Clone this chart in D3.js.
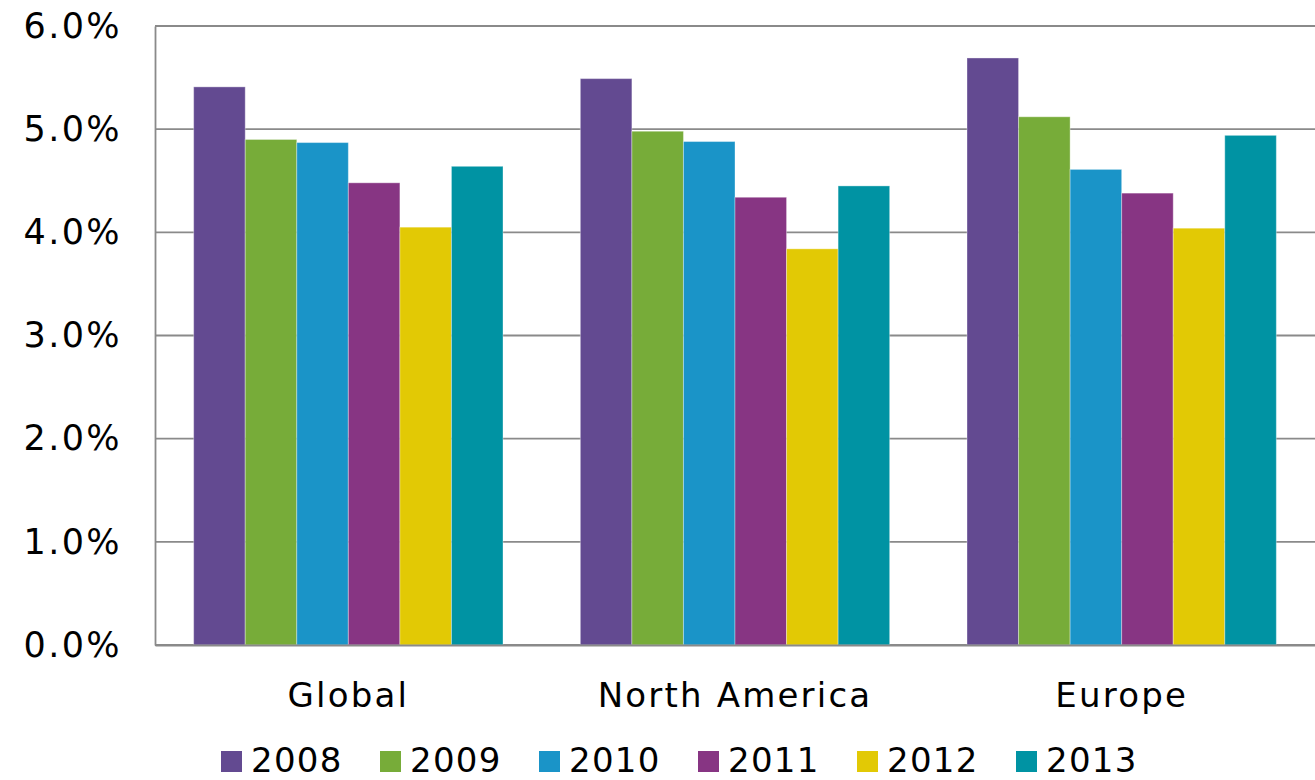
<!DOCTYPE html>
<html>
<head>
<meta charset="utf-8">
<script src="https://cdn.jsdelivr.net/npm/d3@7"></script>
<style>
  html, body { margin: 0; padding: 0; background: #fff; }
  svg { display: block; }
  text { font-family: "DejaVu Sans", Verdana, sans-serif; fill: #000; }
</style>
</head>
<body>
<svg id="chart" width="1315" height="780"></svg>
<script>
// Regions on the x axis
const regions = ["Global", "North America", "Europe"];
// Years shown as grouped series
const years = ["2008", "2009", "2010", "2011", "2012", "2013"];
// Rates per year, one value per region (percent)
const rate2008 = [5.41, 5.49, 5.69];
const rate2009 = [4.90, 4.98, 5.12];
const rate2010 = [4.87, 4.88, 4.61];
const rate2011 = [4.48, 4.34, 4.38];
const rate2012 = [4.05, 3.84, 4.04];
const rate2013 = [4.64, 4.45, 4.94];
// Y axis ticks
const yTicks = [0, 1, 2, 3, 4, 5, 6];
const yTickLabels = ["0.0%", "1.0%", "2.0%", "3.0%", "4.0%", "5.0%", "6.0%"];

const seriesColors = ["#634a91", "#77ac39", "#1a94c8", "#873583", "#e2c905", "#0093a3"];
const seriesValues = [rate2008, rate2009, rate2010, rate2011, rate2012, rate2013];

const svg = d3.select("#chart");
const margin = { left: 155, right: 0, top: 26, bottom: 135 };
const W = 1315, H = 780;
const plotW = W - margin.left - margin.right;
const plotH = H - margin.top - margin.bottom;

const g = svg.append("g").attr("transform", `translate(${margin.left},${margin.top})`);

const x0 = d3.scaleBand().domain(regions).range([0, plotW]).paddingInner(0.2).paddingOuter(0.1);
const x1 = d3.scaleBand().domain(years).range([0, x0.bandwidth()]).padding(0);
const y = d3.scaleLinear().domain([0, 6]).range([plotH, 0]);
const color = d3.scaleOrdinal().domain(years).range(seriesColors);

// Horizontal gridlines
g.append("g")
  .selectAll("line")
  .data(yTicks)
  .join("line")
  .attr("x1", 0).attr("x2", plotW)
  .attr("y1", d => y(d)).attr("y2", d => y(d))
  .attr("stroke", "#8a8a8a")
  .attr("stroke-width", 1.8);

// Y axis labels
const yAxis = d3.axisLeft(y)
  .tickValues(yTicks)
  .tickFormat((d, i) => yTickLabels[i])
  .tickSize(0)
  .tickPadding(33);
const yg = g.append("g").call(yAxis);
yg.select(".domain").attr("stroke", "#8a8a8a").attr("stroke-width", 1.8);
yg.selectAll("text")
  .attr("font-size", 35)
  .attr("letter-spacing", 2.4)
  .attr("font-family", "'DejaVu Sans', Verdana, sans-serif")
  .attr("fill", "#000");

// Bars
const rows = regions.map((r, i) => ({ region: r, vals: years.map((yr, j) => ({ year: yr, v: seriesValues[j][i] })) }));
g.append("g")
  .selectAll("g")
  .data(rows)
  .join("g")
  .attr("transform", d => `translate(${x0(d.region)},0)`)
  .selectAll("rect")
  .data(d => d.vals)
  .join("rect")
  .attr("x", d => x1(d.year))
  .attr("width", x1.bandwidth())
  .attr("y", d => y(d.v))
  .attr("height", d => y(0) - y(d.v))
  .attr("fill", d => color(d.year))
  .attr("stroke", "rgba(255,255,255,0.35)")
  .attr("stroke-width", 1);

// X axis baseline and category labels
const xAxis = d3.axisBottom(x0).tickSize(0).tickPadding(38);
const xg = g.append("g").attr("transform", `translate(0,${plotH})`).call(xAxis);
xg.select(".domain").attr("stroke", "#8a8a8a").attr("stroke-width", 1.8);
xg.selectAll("text")
  .attr("font-size", 34)
  .attr("letter-spacing", 2.2)
  .attr("font-family", "'DejaVu Sans', Verdana, sans-serif")
  .attr("fill", "#000");

// Legend
const legend = svg.append("g").attr("transform", "translate(221,751)");
const item = legend.selectAll("g")
  .data(years)
  .join("g")
  .attr("transform", (d, i) => `translate(${i * 159},0)`);
item.append("rect")
  .attr("width", 21).attr("height", 21)
  .attr("fill", d => color(d));
item.append("text")
  .attr("x", 30).attr("y", 21)
  .attr("font-size", 34)
  .attr("letter-spacing", 1.3)
  .text(d => d);
</script>
</body>
</html>
